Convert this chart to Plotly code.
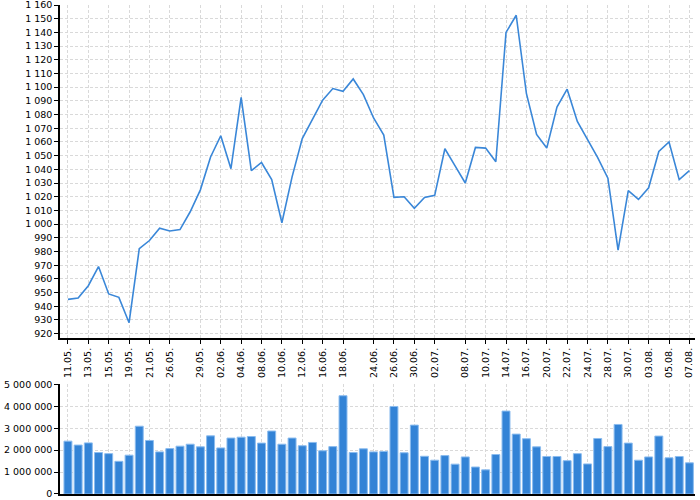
import plotly.graph_objects as go

# trading days (dd.mm.)
dates = ["11.05.", "12.05.", "13.05.", "14.05.", "15.05.", "18.05.", "19.05.", "20.05.",
         "21.05.", "22.05.", "26.05.", "27.05.", "28.05.", "29.05.",
         "01.06.", "02.06.", "03.06.", "04.06.", "05.06.", "08.06.", "09.06.", "10.06.",
         "11.06.", "12.06.", "15.06.", "16.06.", "17.06.", "18.06.", "19.06.", "22.06.",
         "24.06.", "25.06.", "26.06.", "29.06.", "30.06.",
         "01.07.", "02.07.", "06.07.", "07.07.", "08.07.", "09.07.", "10.07.", "13.07.",
         "14.07.", "15.07.", "16.07.", "17.07.", "20.07.", "21.07.", "22.07.", "23.07.",
         "24.07.", "27.07.", "28.07.", "29.07.", "30.07.", "31.07.",
         "03.08.", "04.08.", "05.08.", "06.08.", "07.08."]

price = [945, 946, 955, 969, 949, 946.5, 928, 982, 988, 997, 995, 996, 1009, 1025,
         1049, 1064.5, 1040.5, 1092.5, 1039, 1045, 1032.5, 1001, 1034.5, 1062.5, 1076.5,
         1090.5, 1099, 1097, 1106, 1094.5, 1077.5, 1065, 1019.5, 1020, 1011.5, 1019.5,
         1021, 1055, 1042.5, 1030, 1056, 1055.5, 1045.5, 1140, 1152.5, 1095.5, 1065.5,
         1055.5, 1085.5, 1098.5, 1075, 1062, 1048.5, 1033.5, 981, 1024.5, 1018, 1026.5,
         1053, 1060, 1032.5, 1039]

# volume in millions
volume_m = [2.41, 2.23, 2.33, 1.89, 1.84, 1.49, 1.77, 3.09, 2.44, 1.92, 2.07, 2.18, 2.27,
            2.15, 2.65, 2.10, 2.55, 2.59, 2.62, 2.32, 2.87, 2.27, 2.55, 2.20, 2.35, 1.97,
            2.16, 4.48, 1.89, 2.06, 1.92, 1.94, 3.99, 1.88, 3.14, 1.72, 1.54, 1.75, 1.36,
            1.69, 1.23, 1.10, 1.80, 3.78, 2.73, 2.52, 2.15, 1.71, 1.71, 1.52, 1.84, 1.37,
            2.53, 2.16, 3.17, 2.32, 1.54, 1.69, 2.64, 1.65, 1.71, 1.42]
volume = [v * 1e6 for v in volume_m]

tick_dates = ["11.05.", "13.05.", "15.05.", "19.05.", "21.05.", "26.05.", "29.05.",
              "02.06.", "04.06.", "08.06.", "10.06.", "12.06.", "16.06.", "18.06.",
              "24.06.", "26.06.", "30.06.", "02.07.", "08.07.", "10.07.", "14.07.",
              "16.07.", "20.07.", "22.07.", "24.07.", "28.07.", "30.07.", "03.08.",
              "05.08.", "07.08."]

blue = "#3a87d8"
grid = "#d9d9d9"
font = dict(family="DejaVu Sans", size=9.5, color="black")

fig = go.Figure()
fig.add_trace(go.Scatter(x=dates, y=price, mode="lines", xaxis="x", yaxis="y",
                         line=dict(color=blue, width=1.6), hoverinfo="x+y"))
fig.add_trace(go.Bar(x=dates, y=volume, xaxis="x2", yaxis="y2",
                     marker=dict(color="#3383d6", line=dict(color="#8bbcef", width=1))))

xcommon = dict(type="category", range=[-0.78, 61.55], tickvals=tick_dates,
               showgrid=True, gridcolor=grid, griddash="3px,2px", gridwidth=1,
               showline=True, linecolor="black", linewidth=1.5, zeroline=False,
               automargin=False, ticklabeloverflow="allow")

ycommon = dict(showgrid=True, gridcolor=grid, griddash="3px,2px",
               showline=True, linecolor="black", linewidth=1.5, ticks="outside",
               ticklen=4, tickcolor="black", zeroline=False, tickfont=font,
               tickformat=",d", automargin=False, ticklabeloverflow="allow")

fig.update_layout(
    width=700, height=500,
    margin=dict(l=60, r=5, t=5, b=6),
    paper_bgcolor="white", plot_bgcolor="white",
    showlegend=False, bargap=0.22,
    separators=". ",
    font=font,
    xaxis=dict(xcommon, anchor="y", ticktext=tick_dates, tickangle=-90,
               ticks="outside", ticklen=4, tickcolor="black", tickfont=font),
    xaxis2=dict(xcommon, anchor="y2", matches="x", showticklabels=False, ticks=""),
    yaxis=dict(ycommon, domain=[0.3184, 1], range=[916.6, 1160], dtick=10, tick0=920),
    yaxis2=dict(ycommon, domain=[0, 0.2243], range=[0, 5e6], dtick=1e6),
)

# drop the page's default body margin so the 700x500 figure sits at the corner
fig.write_html("out.html", config={"displayModeBar": False},
               post_script="document.body.style.margin='0';")
